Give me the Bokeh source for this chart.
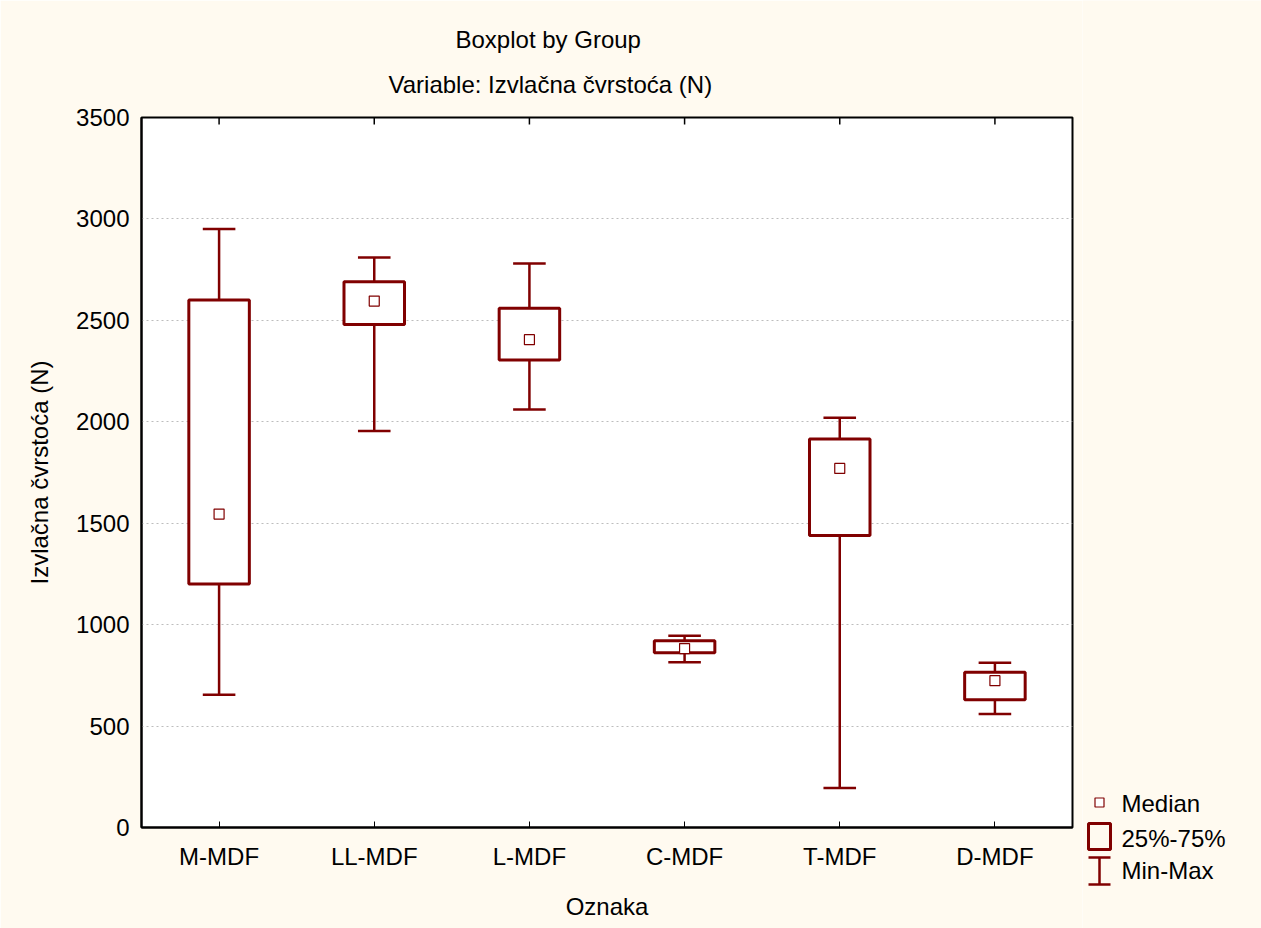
from bokeh.plotting import figure
from bokeh.models import FactorRange, Range1d, FixedTicker, Title, ColumnDataSource
from bokeh.transform import dodge
from bokeh.layouts import row
from bokeh.embed import file_html
from bokeh.resources import INLINE
from bokeh.core.properties import value

# ---------------- data ----------------
groups = ["M-MDF", "LL-MDF", "L-MDF", "C-MDF", "T-MDF", "D-MDF"]
minimum = [655, 1955, 2060, 815, 195, 560]
q1 = [1200, 2480, 2305, 862, 1440, 630]
median = [1545, 2595, 2405, 882, 1770, 724]
q3 = [2600, 2690, 2560, 920, 1915, 765]
maximum = [2950, 2810, 2780, 945, 2020, 812]
y_ticks = [0, 500, 1000, 1500, 2000, 2500, 3000, 3500]
legend_labels = ["Median", "25%-75%", "Min-Max"]

title_text = "Boxplot by Group"
subtitle_text = "Variable: Izvlačna čvrstoća (N)"
x_label = "Oznaka"
y_label = "Izvlačna čvrstoća (N)"

# ---------------- style ----------------
COLOR = "#800000"
BG = "#FFFAF0"
FONT = "Liberation Sans"
FS = "24px"
FRAME_H = 710          # frame height in px
TOP_TICK_PX = 7        # length of the inward ticks on the top edge

y_lo, y_hi = y_ticks[0], y_ticks[-1]
tick_end = y_hi - (y_hi - y_lo) * TOP_TICK_PX / FRAME_H

src = ColumnDataSource(dict(g=groups, lo=minimum, q1=q1, med=median, q3=q3, hi=maximum,
                            ttop=[y_hi] * len(groups), tbot=[tick_end] * len(groups)))

p = figure(width=1082, height=928, x_range=FactorRange(*groups), y_range=Range1d(y_lo, y_hi),
           output_backend="svg", toolbar_location=None,
           min_border_left=141, min_border_right=10, min_border_top=117, min_border_bottom=101)
p.title = None
p.frame_align = False
p.background_fill_color = "white"
p.border_fill_color = BG
p.outline_line_color = "black"
p.outline_line_width = 2

# titles (first added is closest to the frame)
p.add_layout(Title(text=subtitle_text, align="left", offset=247, vertical_align="top",
                   text_font=FONT, text_font_size=FS, text_font_style="normal",
                   text_color="black", standoff=36), "above")
p.add_layout(Title(text=title_text, align="left", offset=314, vertical_align="bottom",
                   text_font=FONT, text_font_size=FS, text_font_style="normal",
                   text_color="black", standoff=0), "above")

# axes
xax = p.below[0]
yax = p.left[0]
xax.axis_label = x_label
yax.axis_label = y_label
for ax in (xax, yax):
    ax.axis_label_text_font = FONT
    ax.axis_label_text_font_size = FS
    ax.axis_label_text_font_style = "normal"
    ax.axis_label_text_color = "black"
    ax.major_label_text_font = FONT
    ax.major_label_text_font_size = FS
    ax.major_label_text_color = "black"
    ax.axis_line_color = "black"
    ax.axis_line_width = 2
    ax.minor_tick_line_color = None
yax.ticker = FixedTicker(ticks=y_ticks)
yax.major_tick_in = 0
yax.major_tick_out = 0
yax.major_label_standoff = 12
yax.axis_label_standoff = 20
xax.major_tick_in = 6
xax.major_tick_out = 0
xax.major_tick_line_color = "black"
xax.major_label_standoff = 15
xax.axis_label_standoff = 20

# grid
p.xgrid.grid_line_color = None
p.ygrid.ticker = FixedTicker(ticks=y_ticks)
p.ygrid.grid_line_color = "#BDBDBD"
p.ygrid.grid_line_dash = "2 3"
p.ygrid.grid_line_width = 1

# inward ticks on the top edge, at each category
p.segment(x0="g", y0="ttop", x1="g", y1="tbot", source=src, line_color="black", line_width=1.5)

# whiskers
p.segment(x0="g", y0="lo", x1="g", y1="hi", source=src, line_color=COLOR, line_width=2.5)
p.segment(x0=dodge("g", -0.105, range=p.x_range), y0="hi", x1=dodge("g", 0.105, range=p.x_range), y1="hi",
          source=src, line_color=COLOR, line_width=2.5)
p.segment(x0=dodge("g", -0.105, range=p.x_range), y0="lo", x1=dodge("g", 0.105, range=p.x_range), y1="lo",
          source=src, line_color=COLOR, line_width=2.5)
# boxes
p.vbar(x="g", width=0.39, bottom="q1", top="q3", source=src, fill_color="white",
       line_color=COLOR, line_width=3)
# medians
p.scatter(x="g", y="med", source=src, marker="square", size=10, fill_color="white",
          line_color=COLOR, line_width=1.2)

# ---------------- legend panel ----------------
lg = figure(width=179, height=928, x_range=Range1d(0, 179), y_range=Range1d(0, 928),
            output_backend="svg", toolbar_location=None, min_border=0)
lg.frame_align = False
lg.axis.visible = False
lg.grid.grid_line_color = None
lg.outline_line_color = None
lg.background_fill_color = BG
lg.border_fill_color = BG

lg.scatter(x=[17], y=[126], marker="square", size=9, fill_color="white", line_color=COLOR, line_width=1.2)
lg.quad(left=[6], right=[28], bottom=[79], top=[105], fill_color=BG, line_color=COLOR, line_width=3)
lg.segment(x0=[17, 6, 6], y0=[44, 71, 44], x1=[17, 28, 28], y1=[71, 71, 44], line_color=COLOR, line_width=2.5)
lg.text(x=[39, 39, 39], y=[125, 90, 58], text=legend_labels, text_font=value(FONT),
        text_font_size=FS, text_baseline="middle", text_align="left", text_color="black")

layout = row(p, lg, spacing=0)
open("out.html", "w").write(file_html(layout, INLINE))
